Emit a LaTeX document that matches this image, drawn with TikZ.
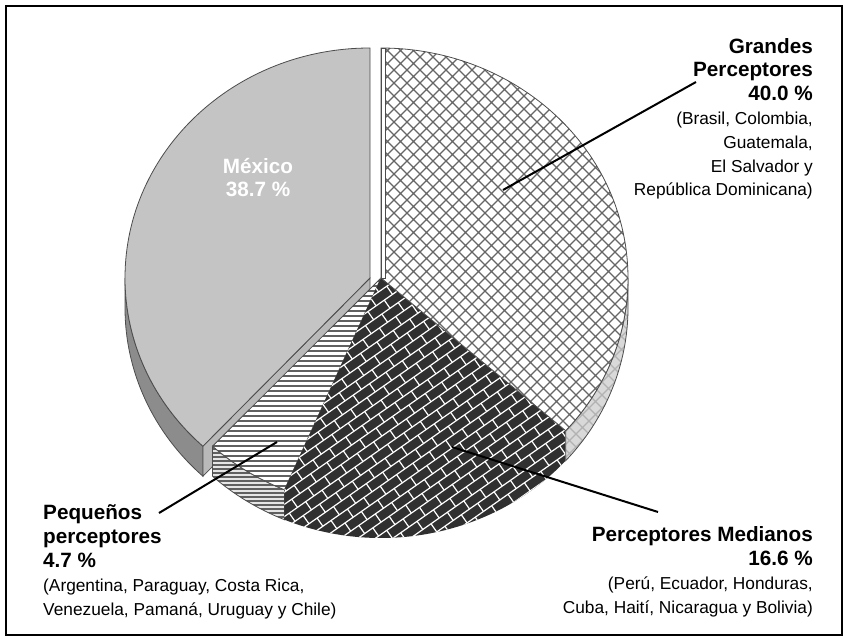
\documentclass[tikz,border=0pt]{standalone}
\usepackage{fontspec}
\setmainfont{Liberation Sans}
\usetikzlibrary{positioning}

\definecolor{mexgray}{gray}{0.77}
\definecolor{mexside}{gray}{0.55}
\definecolor{darkbrick}{gray}{0.19}
\definecolor{rimgray}{gray}{0.3}

\tikzset{
  slice/.style={draw=rimgray, line width=0.8},
  hatchline/.style={draw=gray!80!black, line width=1.1},
  mortar/.style={draw=white, line width=1.2},
  stripe/.style={draw=gray!75!black, line width=2.2},
  leader/.style={draw=black, line width=2},
  lbl/.style={font=\fontsize{17.3}{23.8}\selectfont, inner sep=0pt},
  wedge/.style 2 args={insert path={(C) -- ++(#1:247 and 230) arc[start angle=#1, end angle=#2, x radius=247, y radius=230] -- cycle}},
  side/.style 2 args={insert path={(C) ++(#1:247 and 230) arc[start angle=#1, end angle=#2, x radius=247, y radius=230] -- ++(0,-30) arc[start angle=#2, end angle=#1, x radius=247, y radius=230] -- cycle}},
}
\newcommand{\hd}[1]{{\fontsize{20.7}{23.8}\selectfont\bfseries #1}}

\begin{document}
\begin{tikzpicture}[x=1pt,y=1pt]
\useasboundingbox (0,0) rectangle (848,641);
\draw[line width=1.8] (6,6) rectangle (842,635);

\coordinate (C) at (381,363);
\coordinate (M) at (370,363);

% Mexico (pulled out)
\path[fill=mexside, slice] (M) ++(180:245 and 230) arc[start angle=180, end angle=227, x radius=245, y radius=230] -- ++(0,-30) arc[start angle=227, end angle=180, x radius=245, y radius=230] -- cycle;
\path[fill=gray!55, slice] (M) -- ++(227:245 and 230) -- ++(0,-30) -- ([yshift=-30pt]M) -- cycle;
\path[fill=mexgray, slice] (M) -- ++(90:245 and 230) arc[start angle=90, end angle=227, x radius=245, y radius=230] -- cycle;

% Pequenos
\begin{scope}
  \clip[side={227}{247}];
  \fill[gray!20] (150,100) rectangle (400,380);
  \draw[stripe] foreach \k in {0,...,70} {(150,100+\k*4) -- (400,100+\k*4)};
\end{scope}
\path[slice, side={227}{247}];
\begin{scope}
  \clip[wedge={227}{247}];
  \fill[white] (150,100) rectangle (400,380);
  \draw[stripe] foreach \k in {0,...,56} {(150,100+\k*5) -- (400,100+\k*5)};
\end{scope}
\path[slice, wedge={227}{247}];

% Medianos
\begin{scope}
  \clip[wedge={247}{318.4}, side={247}{318.4}];
  \fill[darkbrick] (C) ++(-150,-300) rectangle ++(450,320);
  \begin{scope}[shift={(C)}, rotate=35]
    \draw[mortar] foreach \j in {-36,...,8} {(-270,\j*10) -- (210,\j*10)};
    \draw[mortar] foreach \j in {-36,...,8} {foreach \i in {-14,...,10} {({\i*20+mod(\j,2)*10},\j*10) -- ++(0,10)}};
  \end{scope}
\end{scope}

% Grandes
\begin{scope}
  \clip[side={-41.6}{0}];
  \fill[gray!30] (C) ++(150,-200) rectangle ++(120,220);
  \begin{scope}[shift={(C)}]
    \draw[hatchline, draw=gray!60] foreach \k in {-25,...,40} {(\k*13-300,-300) -- ++(600,600) (\k*13-300,300) -- ++(600,-600)};
  \end{scope}
\end{scope}
\path[slice, side={-41.6}{0}];
\begin{scope}
  \clip[wedge={-41.6}{90}];
  \fill[white] (C) ++(0,-200) rectangle ++(260,440);
  \begin{scope}[shift={(C)}]
    \draw[hatchline] foreach \k in {-25,...,40} {(\k*13-300,-300) -- ++(600,600) (\k*13-300,300) -- ++(600,-600)};
  \end{scope}
\end{scope}
\path[slice, wedge={-41.6}{90}];
\path[fill=white, slice] (C) rectangle ++(4,230);

% labels
\node[lbl, anchor=base, align=center, text=white] (mexicoLbl) at (258,444) {\hd{México}\\ \hd{38.7 \%}};
\node[lbl, anchor=base east, align=right] (grandesLbl) at (813,445) {\hd{Grandes}\\ \hd{Perceptores}\\ \hd{40.0 \%}\\ (Brasil, Colombia,\\ Guatemala,\\ El Salvador y\\ República Dominicana)};
\node[lbl, anchor=base west, align=left] (pequenosLbl) at (43,26) {\hd{Pequeños}\\ \hd{perceptores}\\ \hd{4.7 \%}\\ (Argentina, Paraguay, Costa Rica,\\ Venezuela, Pamaná, Uruguay y Chile)};
\node[lbl, anchor=base east, align=right] (medianosLbl) at (813,28) {\hd{Perceptores Medianos}\\ \hd{16.6 \%}\\ (Perú, Ecuador, Honduras,\\ Cuba, Haití, Nicaragua y Bolivia)};

% leaders
\coordinate (grandesEnd) at (696,559);
\coordinate (grandesTip) at (503,451);
\coordinate (medianosEnd) at (658,129);
\coordinate (medianosTip) at (452,194);
\coordinate (pequenosEnd) at (159,128);
\coordinate (pequenosTip) at (277,199);
\draw[leader] (grandesEnd) -- (grandesTip);
\draw[leader] (medianosEnd) -- (medianosTip);
\draw[leader] (pequenosEnd) -- (pequenosTip);
\end{tikzpicture}
\end{document}
